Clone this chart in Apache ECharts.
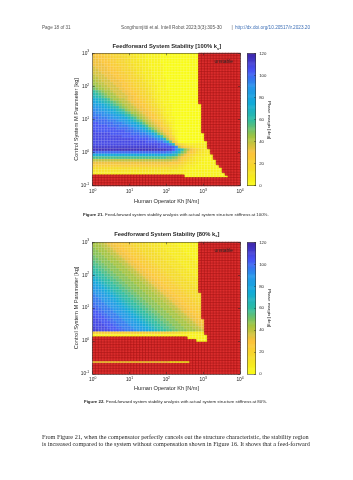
<!DOCTYPE html>
<html>
<head>
<meta charset="utf-8">
<script src="https://cdn.jsdelivr.net/npm/echarts@6/dist/echarts.min.js"></script>
<style>
html, body { margin: 0; padding: 0; background: #fff; }
#chart { width: 353px; height: 480px; }
</style>
</head>
<body>
<div id="chart"></div>
<script>
// 50 x 50 cells, log10(Kh) from 0 to 4 (columns), log10(M) from -1 to 3 (rows)
const nCols = 50;
const xTickExp = ['0', '1', '2', '3', '4'];
const yTickExp = ['-1', '0', '1', '2', '3'];
const cbTicks = [0, 20, 40, 60, 80, 100, 120];
// phase margin of each cell, one char per cell (top row first):
// index in levelChars times levelStep = degrees, '.' = unstable (missing chars are unstable too)
const levelChars = '0123456789abcdefghijklmnopqrstu';
const levelStep = 4;

const pm100Rows = [
  '777 666 555 444 33 2222 11111 0000000000000',
  '8 777 666 555 44 333 222 11111 0000000000000',
  '88 777 666 555 44 33 222 11111 0000000000000',
  '888 777 66 555 44 333 222 1111 0000000000000',
  '8888 77 666 555 44 33 222 11111 000000000000',
  '9 8888 77 666 55 44 333 22 11111 000000000000',
  '99 888 777 66 555 44 33 222 1111 000000000000',
  '999 888 777 66 555 4 33 222 1111 000000000000',
  'a 999 888 77 666 55 44 33 22 1111 000000000000',
  'aa 999 888 77 66 555 44 3 222 1111 00000000000',
  'b aa 999 888 77 66 55 44 33 22 1111 00000000000',
  'bb aa 999 888 77 66 55 44 3 22 1111 00000000000',
  'c bb aa 999 88 77 66 55 44 33 22 111 00000000000',
  'd c bb aa 999 88 77 66 55 44 3 22 111 00000000000',
  'f e d c bb a 999 88 77 66 55 4 33 2 1111 0000000000',
  'g f e d c bb a 999 88 77 6 55 44 3 22 111 0000000000',
  'h g f e d c bb a 999 88 7 66 55 4 3 22 111 0000000000',
  'j i h g f e c bb aa 9 88 77 66 5 44 3 2 111 0000000000',
  'k j i h g f e d c b aa 9 88 77 6 55 4 3 22 11 0000000000',
  'l kk j i h f e d c b aa 9 88 77 6 5 44 3 2 111 0000000000',
  'mm l k j i h g f d c b aa 9 88 7 66 5 4 3 22 11 0000000000',
  'nn m ll k j i g f e c b aa 9 88 7 6 55 4 3 2 11 0000000000',
  'o nnn m l k j i h g e d bb a 9 88 7 6 5 4 3 2 11 0000000000',
  'ooo nnn m l k j i g f d c b a 9 8 77 6 5 4 22 1 0000000000',
  'pp ooo nn mm l k j h f e c b a 9 8 7 6 5 4 3 2 11 000000000',
  'ppppp ooo n mm l j i g e d b a 9 8 7 6 5 4 2 11 000000000',
  'qq ppppp ooo n m l k j h f d b a 9 8 7 6 4 3 2 1 000000000',
  'qqqqq pppp ooo n m l k i g e b a 9 8 6 5 4 2 1 000000000',
  'qqqqqqqq pppp oo n m l j h e c a 9 8 6 5 3 1 000000000',
  'r qqqqqqqqqq ppp oo n m k i f d a 9 7 6 4 2 1 00000000',
  'rrrrrr qqqqqqq ppp oo n m k h d b 9 7 5 2 1 000000000',
  'rrrrrrrrrr qqqqqq ppp o n l j f b 9 6 4 1 000000000',
  'rrrrrrrrrrrrrr qqqqq pp o n l h b 8 6 2 000000000',
  'rrrrrrrrrrrrrrrrrr qqqq pp n j d 8 4 0000000000',
  'r'.repeat(23) + 'qqpng8543' + '2222222',
  's'.repeat(22) + 'rrrrrqna86543' + '2222',
  't'.repeat(25) + 'ssqnjfca86543' + '22',
  'p'.repeat(25) + 'oomkgdb87643322',
  'j'.repeat(25) + 'iihfca8654332222',
  'e'.repeat(25) + 'ddcb976543222111',
  'a'.repeat(27) + '998654332211111',
  '8'.repeat(26) + '7776543322111111',
  '6'.repeat(27) + '5544322211111111',
  '4'.repeat(29) + '332211111111111',
  '3'.repeat(27) + '22222111111111111',
  '2'.repeat(31) + '11111111111111',
  '.'.repeat(31) + '111111111111111',
  '', '', ''
];

const pm80Rows = [
  'bb aa 9 88 77 666 55 4444 3333 222222 11111111',
  'bbb aa 9 88 77 666 55 4444 3333 222222 1111111',
  'c bbb aa 9 88 77 666 55 4444 3333 222222 111111',
  'cc bbb aa 9 88 77 666 55 4444 3333 222222 11111',
  'ccc bbb aa 9 88 77 666 55 4444 3333 222222 1111',
  'd ccc bbb aa 9 88 77 666 55 4444 3333 222222 111',
  'dd ccc bbb aa 9 88 77 666 55 4444 3333 222222 11',
  'e dd ccc bbb aa 9 88 77 666 55 4444 3333 222222 1',
  'ee dd ccc bbb aa 9 88 77 666 55 4444 3333 222222',
  'f ee dd ccc bbb aa 9 88 77 666 55 4444 3333 22222',
  'ff ee dd ccc bbb aa 9 88 77 666 55 4444 3333 2222',
  'g ff ee dd ccc bbb aa 9 88 77 666 55 4444 3333 222',
  'h g ff ee dd ccc bbb aa 9 88 77 666 55 4444 3333 22',
  'i h g ff ee dd ccc bbb aa 9 88 77 666 55 4444 3333 2',
  'j i h g ff ee dd ccc bbb aa 9 88 77 666 55 4444 3333',
  'k j i h g ff ee dd ccc bbb aa 9 88 77 666 55 4444 333',
  'l k j i h g ff ee dd ccc bbb aa 9 88 77 666 55 4444 33',
  'm l k j i h g ff ee dd ccc bbb aa 9 88 77 666 55 4444 3',
  'mm l k j i h g ff ee dd ccc bbb aa 9 88 77 666 55 4444',
  'n mm l k j i h g ff ee dd ccc bbb aa 9 88 77 666 55 4444',
  'o n mm l k j i h g ff ee dd ccc bbb aa 9 88 77 666 55 444',
  'oo n mm l k j i h g ff ee dd ccc bbb aa 9 88 77 666 55 44',
  'ooo n mm l k j i h g ff ee dd ccc bbb aa 9 88 77 666 55 4',
  'p ooo n mm l k j i h g ff ee dd ccc bbb aa 9 88 77 666 55',
  'pp ooo n mm l k j i h g ff ee dd ccc bbb aa 9 88 77 666 5',
  'q pp ooo n mm l k j i h g ff ee dd ccc bbb aa 9 88 77 666',
  'qq pp ooo n mm l k j i h g ff ee dd ccc bbb aa 9 88 77 66',
  'qqq pp ooo n mm l k j i h g ff ee dd ccc bbb aa 9 88 77 6',
  'r qqq pp ooo n mm l k j i h g ff ee dd ccc bbb aa 9 88 77',
  'rr qqq pp ooo n mm l k j i h g ff ee dd ccc bbb aa 9 88 77',
  'rrr qqq pp ooo n mm l k j i h g ff ee dd ccc bbb aa 9 88 7',
  'rrrr qqq pp ooo n mm l k j i h g ff ee dd ccc bbb aa 9 88',
  's rrrr qqq pp ooo n mm l k j i h g ff ee dd ccc bbb aa 9 8',
  'ss rrrr qqq pp ooo n mm l k j i h g ff ee dd ccc bbb aa 9',
  '6'.repeat(26) + '554433222222',
  '1'.repeat(39),
  '.'.repeat(32) + '1111111',
  '.'.repeat(35) + '1111',
  '', '', '', '', '', '', '',
  '5'.repeat(26) + '1111111',
  '', '', '', ''
];

// parula, flipped so 0 deg is yellow
const parulaFlip = ['#f9fb15', '#f5dd28', '#fcc23c', '#9fc441', '#2fbca1', '#12aad8', '#2796eb', '#4852f4', '#3e26a8'];
const F = '"Liberation Sans", Arial, Helvetica, sans-serif';
const axisCol = '#262626';

function decodeRows(rows) {
  const stable = [], unstable = [];
  rows.forEach(function (row, r) {
    const cells = row.replace(/\s+/g, '').padEnd(nCols, '.').slice(0, nCols);
    const y = rows.length - 1 - r;
    for (let x = 0; x < nCols; x++) {
      const ch = cells[x];
      if (ch === '.') unstable.push([x, y, 1]);
      else stable.push([x, y, levelChars.indexOf(ch) * levelStep]);
    }
  });
  return { stable: stable, unstable: unstable };
}

const cellIdx = [];
for (let i = 0; i < nCols; i++) cellIdx.push(String(i));
const cbIdx = [], cbData = [];
for (let k = 0; k < cbTicks[cbTicks.length - 1]; k++) { cbIdx.push(String(k)); cbData.push([0, k, k + 0.5]); }

const frameLine = { show: true, onZero: false, lineStyle: { color: axisCol, width: 0.5 } };
const tickSt = { color: axisCol, width: 0.5 };
const supRich = {
  b: { fontSize: 4.8, lineHeight: 6.5, color: axisCol, fontFamily: F },
  e: { fontSize: 3.4, lineHeight: 3.4, verticalAlign: 'top', color: axisCol, fontFamily: F }
};

const panels = [
  { rows: pm100Rows, grid: { left: 92.7, top: 53.3, width: 147.3, height: 132.4 }, cb: { left: 247.5, top: 53.6, width: 8.2, height: 132.1 } },
  { rows: pm80Rows, grid: { left: 92.7, top: 242.3, width: 147.3, height: 131.6 }, cb: { left: 247.5, top: 242.6, width: 8.2, height: 131.3 } }
];

const grids = [], xAxes = [], yAxes = [], series = [], vmSeries = [];

panels.forEach(function (p) {
  const g = grids.length;
  grids.push(p.grid);
  grids.push(p.cb);
  const cg = g + 1;
  const d = decodeRows(p.rows);

  const xc = xAxes.length;
  xAxes.push({ gridIndex: g, type: 'category', data: cellIdx, show: false });
  xAxes.push({ gridIndex: g, type: 'value', min: 0, max: 4, interval: 1, position: 'bottom', z: 5,
    axisLine: frameLine, axisTick: { show: true, inside: true, length: 2, lineStyle: tickSt },
    axisLabel: { margin: 3, formatter: function (v, i) { return '{b|10}{e|' + xTickExp[i] + '}'; }, rich: supRich },
    splitLine: { show: false } });
  xAxes.push({ gridIndex: g, type: 'value', min: 0, max: 4, interval: 1, position: 'top', z: 5,
    axisLine: frameLine, axisTick: { show: true, inside: true, length: 2, lineStyle: tickSt },
    axisLabel: { show: false }, splitLine: { show: false } });
  const cbx = xAxes.length;
  xAxes.push({ gridIndex: cg, type: 'category', data: ['c'], show: false });
  xAxes.push({ gridIndex: cg, type: 'value', min: 0, max: 1, position: 'bottom', z: 5, axisLine: frameLine,
    axisTick: { show: false }, axisLabel: { show: false }, splitLine: { show: false } });
  xAxes.push({ gridIndex: cg, type: 'value', min: 0, max: 1, position: 'top', z: 5, axisLine: frameLine,
    axisTick: { show: false }, axisLabel: { show: false }, splitLine: { show: false } });

  const yc = yAxes.length;
  yAxes.push({ gridIndex: g, type: 'category', data: cellIdx, show: false });
  yAxes.push({ gridIndex: g, type: 'value', min: -1, max: 3, interval: 1, position: 'left', z: 5,
    axisLine: frameLine, axisTick: { show: true, inside: true, length: 2, lineStyle: tickSt },
    axisLabel: { margin: 3.5, formatter: function (v, i) { return '{b|10}{e|' + yTickExp[i] + '}'; }, rich: supRich },
    splitLine: { show: false } });
  yAxes.push({ gridIndex: g, type: 'value', min: -1, max: 3, interval: 1, position: 'right', z: 5,
    axisLine: frameLine, axisTick: { show: true, inside: true, length: 2, lineStyle: tickSt },
    axisLabel: { show: false }, splitLine: { show: false } });
  const cby = yAxes.length;
  yAxes.push({ gridIndex: cg, type: 'category', data: cbIdx, show: false });
  yAxes.push({ gridIndex: cg, type: 'value', min: 0, max: 120, interval: 20, position: 'right', z: 5,
    axisLine: frameLine, axisTick: { show: true, inside: true, length: 1.5, lineStyle: tickSt },
    axisLabel: { margin: 3.5, fontSize: 4.3, color: axisCol, fontFamily: F }, splitLine: { show: false } });
  yAxes.push({ gridIndex: cg, type: 'value', min: 0, max: 120, position: 'left', z: 5,
    axisLine: frameLine, axisTick: { show: false }, axisLabel: { show: false }, splitLine: { show: false } });

  vmSeries.push(series.length);
  series.push({ type: 'heatmap', name: 'stable', xAxisIndex: xc, yAxisIndex: yc, data: d.stable, silent: true,
    itemStyle: { borderColor: 'rgba(255,255,255,0.3)', borderWidth: 0.5 } });
  series.push({ type: 'heatmap', name: 'unstable', xAxisIndex: xc, yAxisIndex: yc, data: d.unstable, silent: true,
    itemStyle: { color: '#dc2d2d', borderColor: '#a51616', borderWidth: 0.5 } });
  vmSeries.push(series.length);
  series.push({ type: 'heatmap', name: 'colorbar', xAxisIndex: cbx, yAxisIndex: cby, data: cbData, silent: true });
});

function T(x, y, text, o) {
  o = o || {};
  return { type: 'text', x: x, y: y, rotation: o.rot || 0, silent: true, z: 50,
    style: { text: text, x: 0, y: 0, fill: o.fill || axisCol, fontSize: o.size || 5.6, fontFamily: o.font || F,
      fontWeight: o.weight || 'normal', align: o.align || 'center', verticalAlign: 'middle', rich: o.rich } };
}
function titleRich(size) {
  return {
    t: { fontSize: size, fontWeight: 'bold', lineHeight: 8, color: '#000', fontFamily: F },
    s: { fontSize: size * 0.7, fontWeight: 'bold', lineHeight: 4, verticalAlign: 'bottom', color: '#000', fontFamily: F }
  };
}
function legendBox(top) {
  return { type: 'group', z: 50, silent: true, children: [
    { type: 'rect', shape: { x: 198, y: top, width: 37, height: 7.8 }, style: { fill: '#fff', stroke: '#7a7a7a', lineWidth: 0.4 } },
    { type: 'circle', shape: { cx: 207.3, cy: top + 3.9, r: 1.5 }, style: { fill: '#c21f1f' } },
    T(233, top + 3.9, 'unstable', { size: 4.9, align: 'right' })
  ] };
}

const serif = '"Liberation Serif", "Times New Roman", serif';
const bodyRich = { t: { fontSize: 6.2, fontFamily: serif, color: '#333' }, l: { fontSize: 6.2, fontFamily: serif, color: '#3d6fb6' } };
const capRich = { b: { fontSize: 4.35, fontWeight: 'bold', fontFamily: F, color: '#333' }, t: { fontSize: 4.35, fontFamily: F, color: '#666' } };

const graphics = [
  T(42, 27.3, 'Page 18 of 31', { size: 4.6, align: 'left', fill: '#555' }),
  T(121, 27.3, 'Songthumjitti et al. Intell Robot 2023;3(3):305-30', { size: 4.7, align: 'left', fill: '#555' }),
  T(232, 27.3, '|', { size: 4.7, fill: '#555' }),
  T(235, 27.3, 'http://dx.doi.org/10.20517/ir.2023.20', { size: 4.7, align: 'left', fill: '#3d6fb6' }),

  T(166.8, 46.5, '{t|Feedforward System Stability [100% k}{s|s}{t|]}', { rich: titleRich(5.8) }),
  T(76.7, 119.5, 'Control System M Parameter [kg]', { rot: Math.PI / 2 }),
  T(166.5, 201, 'Human Operator Kh [N/m]'),
  T(269.3, 120, 'Phase margin [deg]', { size: 4.4, rot: -Math.PI / 2 }),
  legendBox(58.2),
  T(83, 215, '{b|Figure 21.} {t|Feed-forward system stability analysis with actual system structure stiffness at 100%.}', { align: 'left', rich: capRich }),

  T(166.8, 234.3, '{t|Feedforward System Stability [80% k}{s|s}{t|]}', { rich: titleRich(5.8) }),
  T(76.7, 308, 'Control System M Parameter [kg]', { rot: Math.PI / 2 }),
  T(166.5, 388, 'Human Operator Kh [N/m]'),
  T(269.3, 308, 'Phase margin [deg]', { size: 4.4, rot: -Math.PI / 2 }),
  legendBox(247.2),
  T(84, 401.7, '{b|Figure 22.} {t|Feed-forward system stability analysis with actual system structure stiffness at 80%.}', { align: 'left', rich: capRich }),

  T(42, 437.3, '{t|From Figure }{l|21}{t|, when the compensator perfectly cancels out the structure characteristic, the stability region}', { align: 'left', rich: bodyRich }),
  T(42, 443.9, '{t|is increased compared to the system without compensation shown in Figure }{l|16}{t|. It shows that a feed-forward}', { align: 'left', rich: bodyRich })
];

const chart = echarts.init(document.getElementById('chart'));
chart.setOption({
  backgroundColor: '#fff',
  animation: false,
  grid: grids,
  xAxis: xAxes,
  yAxis: yAxes,
  visualMap: { type: 'continuous', show: false, min: 0, max: 120, seriesIndex: vmSeries, inRange: { color: parulaFlip } },
  series: series,
  graphic: graphics
});
</script>
</body>
</html>
